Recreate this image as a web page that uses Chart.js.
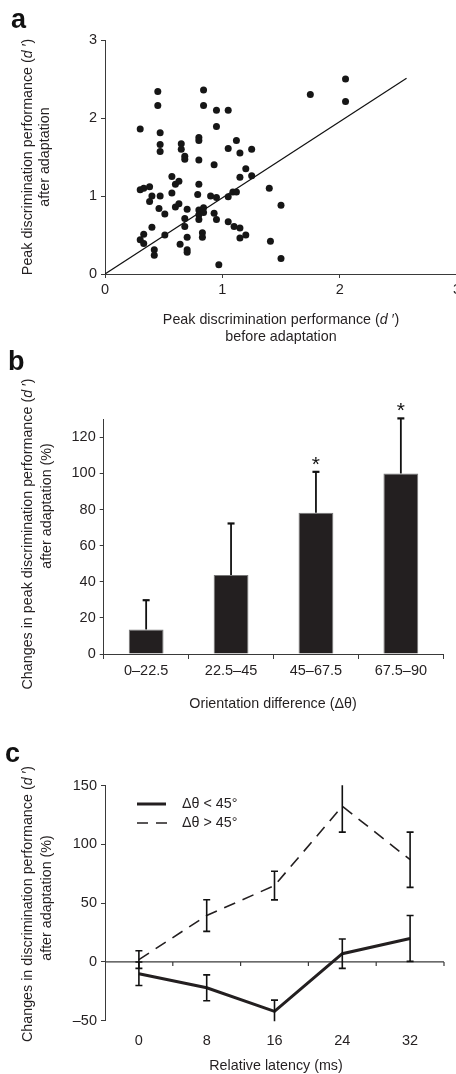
<!DOCTYPE html>
<html>
<head>
<meta charset="utf-8">
<script src="https://cdn.jsdelivr.net/npm/chart.js@4/dist/chart.umd.min.js"></script>
<style>
  html, body { margin: 0; padding: 0; background: #fff; width: 456px; height: 1074px; overflow: hidden; }
  .panel { position: absolute; left: 0; }
  canvas { display: block; }
</style>
</head>
<body>
<div class="panel" style="top:0px"><canvas id="chartA" width="470" height="350"></canvas></div>
<div class="panel" style="top:350px"><canvas id="chartB" width="456" height="370"></canvas></div>
<div class="panel" style="top:720px"><canvas id="chartC" width="456" height="354"></canvas></div>
<script>
// ---- panel a: peak d' before vs after adaptation ----
var beforeD = [0.30, 0.45, 0.45, 0.47, 0.47, 0.47, 0.84, 0.84, 0.95, 1.05, 0.95, 0.65, 0.65, 0.68, 0.68,
  0.80, 0.80, 0.80, 0.93, 1.05, 1.12, 1.15, 1.25, 1.20, 1.15, 1.25, 0.57, 0.60, 0.63, 0.80,
  0.30, 0.33, 0.38, 0.40, 0.47, 0.38, 0.46, 0.51, 0.57, 0.60, 0.63, 0.70, 0.79, 0.80, 0.80,
  0.80, 0.84, 0.84, 0.90, 0.95, 0.93, 0.95, 1.05, 1.09, 1.12, 1.40, 1.50, 0.68, 0.68, 1.05,
  1.10, 1.15, 1.20, 1.15, 0.30, 0.33, 0.33, 0.40, 0.51, 0.42, 0.42, 0.64, 0.70, 0.70, 0.70,
  0.83, 0.83, 0.97, 1.41, 1.50, 1.75, 2.05, 2.05];
var afterD = [1.86, 2.34, 2.16, 1.81, 1.66, 1.57, 2.36, 2.16, 2.10, 2.10, 1.89, 1.67, 1.60, 1.51, 1.47,
  1.75, 1.71, 1.46, 1.40, 1.61, 1.71, 1.55, 1.60, 1.35, 1.24, 1.26, 1.25, 1.15, 1.19, 1.15,
  1.08, 1.10, 1.12, 1.00, 1.00, 0.93, 0.84, 0.77, 1.04, 0.86, 0.90, 0.83, 1.02, 0.82, 0.76,
  0.70, 0.85, 0.79, 1.00, 0.98, 0.78, 0.70, 0.99, 1.05, 1.05, 1.10, 0.88, 0.71, 0.61, 0.67,
  0.61, 0.59, 0.50, 0.46, 0.44, 0.51, 0.39, 0.60, 0.50, 0.31, 0.24, 0.38, 0.47, 0.31, 0.28,
  0.53, 0.47, 0.12, 0.42, 0.20, 2.30, 2.50, 2.21];
var unityX = [0, 2.57];
var unityY = [0, 2.51];

// ---- panel b: change in peak d' by orientation difference ----
var orientCats = ["0–22.5", "22.5–45", "45–67.5", "67.5–90"];
var orientMean = [13.6, 43.8, 78.2, 100];
var orientErr = [16.2, 28.5, 22.7, 30.5];
var orientStar = [false, false, true, true];

// ---- panel c: change in d' vs relative latency ----
var latency = [0, 8, 16, 24, 32];
var narrowMean = [-10, -22, -42, 7, 20];
var narrowErr = [10, 11, 9.5, 12.5, 19.5];
var wideMean = [2, 39.5, 65, 132.5, 87];
var wideErr = [7.5, 13.5, 12.2, 22, 23.5];

var FONT = "'Liberation Sans', Arial, Helvetica, sans-serif";
var INK = "#231f20";
var AXIS = "#3a3a3a";

Chart.defaults.font.family = FONT;
Chart.defaults.font.size = 14.5;
Chart.defaults.color = INK;
Chart.defaults.animation = false;

// text with italic pieces, centred on (x, y); rotated for y titles
function richText(ctx, parts, x, y, rotate) {
  ctx.save();
  ctx.translate(x, y);
  if (rotate) ctx.rotate(-Math.PI / 2);
  ctx.textBaseline = "middle";
  ctx.textAlign = "left";
  ctx.fillStyle = INK;
  var total = 0;
  parts.forEach(function (p) {
    ctx.font = (p[1] ? "italic " : "") + "14.3px " + FONT;
    total += ctx.measureText(p[0]).width;
  });
  var cx = -total / 2;
  parts.forEach(function (p) {
    ctx.font = (p[1] ? "italic " : "") + "14.3px " + FONT;
    ctx.fillText(p[0], cx, 0);
    cx += ctx.measureText(p[0]).width;
  });
  ctx.restore();
}

function panelLetter(ctx, letter, x, y) {
  ctx.save();
  ctx.font = "bold 27px " + FONT;
  ctx.fillStyle = "#111";
  ctx.textBaseline = "alphabetic";
  ctx.fillText(letter, x, y);
  ctx.restore();
}

function yAxisOpts(min, max, step, width, extra) {
  var o = {
    min: min, max: max,
    border: { display: true, color: AXIS, width: 1 },
    grid: { display: true, drawOnChartArea: false, drawTicks: true, tickLength: 4, color: AXIS },
    ticks: { stepSize: step, padding: 4, includeBounds: false, color: INK },
    afterFit: function (s) { s.width = width; }
  };
  return Object.assign(o, extra || {});
}

// ---------------- panel a ----------------
var scatterPts = beforeD.map(function (v, i) { return { x: v, y: afterD[i] }; });
var unityPts = unityX.map(function (v, i) { return { x: v, y: unityY[i] }; });

new Chart(document.getElementById("chartA"), {
  type: "scatter",
  data: {
    datasets: [
      { data: unityPts, showLine: true, borderColor: "#111", borderWidth: 1.2, pointRadius: 0, order: 2 },
      { data: scatterPts, backgroundColor: "#161616", borderWidth: 0, pointRadius: 3.5, order: 1 }
    ]
  },
  options: {
    responsive: false,
    layout: { padding: { left: 0, right: 13, top: 40, bottom: 0 } },
    plugins: { legend: { display: false }, tooltip: { enabled: false } },
    scales: {
      x: {
        type: "linear", min: 0, max: 3,
        border: { display: true, color: AXIS, width: 1 },
        grid: { display: true, drawOnChartArea: false, drawTicks: true, tickLength: 4, color: AXIS },
        ticks: { stepSize: 1, padding: 3, color: INK },
        afterFit: function (s) { s.height = 76; }
      },
      y: yAxisOpts(0, 3, 1, 105)
    }
  },
  plugins: [{
    id: "textA",
    afterDraw: function (chart) {
      var ctx = chart.ctx;
      panelLetter(ctx, "a", 11, 28);
      richText(ctx, [["Peak discrimination performance (", false], ["d", true], [" ′)", false]], 281, 320, false);
      richText(ctx, [["before adaptation", false]], 281, 337, false);
      richText(ctx, [["Peak discrimination performance (", false], ["d", true], [" ′)", false]], 28, 157, true);
      richText(ctx, [["after adaptation", false]], 45, 157, true);
    }
  }]
});

// ---------------- panel b ----------------
new Chart(document.getElementById("chartB"), {
  type: "bar",
  data: {
    labels: orientCats,
    datasets: [{
      data: orientMean,
      backgroundColor: INK,
      borderColor: "#777",
      borderWidth: 1,
      categoryPercentage: 1,
      barPercentage: 0.41
    }]
  },
  options: {
    responsive: false,
    layout: { padding: { left: 0, right: 12.7, top: 69.3, bottom: 0 } },
    plugins: { legend: { display: false }, tooltip: { enabled: false } },
    scales: {
      x: {
        border: { display: true, color: AXIS, width: 1 },
        grid: { display: true, offset: true, drawOnChartArea: false, drawTicks: true, tickLength: 5, color: AXIS },
        ticks: { padding: 3, color: INK },
        afterFit: function (s) { s.height = 66; }
      },
      y: yAxisOpts(0, 130, 20, 103.7, {})
    }
  },
  plugins: [{
    id: "errB",
    afterDatasetsDraw: function (chart) {
      var ctx = chart.ctx, xs = chart.scales.x, ys = chart.scales.y;
      ctx.save();
      ctx.strokeStyle = "#111";
      orientMean.forEach(function (m, i) {
        var px = xs.getPixelForValue(i);
        var top = ys.getPixelForValue(m + orientErr[i]);
        var base = ys.getPixelForValue(m);
        ctx.lineWidth = 1.8;
        ctx.beginPath(); ctx.moveTo(px, base); ctx.lineTo(px, top); ctx.stroke();
        ctx.lineWidth = 2.2;
        ctx.beginPath(); ctx.moveTo(px - 3.5, top); ctx.lineTo(px + 3.5, top); ctx.stroke();
        if (orientStar[i]) {
          ctx.font = "21px " + FONT;
          ctx.fillStyle = "#111";
          ctx.textAlign = "center";
          ctx.textBaseline = "alphabetic";
          ctx.fillText("*", px, top - 1);
        }
      });
      ctx.restore();
    },
    afterDraw: function (chart) {
      var ctx = chart.ctx;
      panelLetter(ctx, "b", 8, 20);
      richText(ctx, [["Orientation difference (Δθ)", false]], 273, 354, false);
      richText(ctx, [["Changes in peak discrimination performance (", false], ["d", true], [" ′)", false]], 28, 184, true);
      richText(ctx, [["after adaptation (%)", false]], 47, 156, true);
    }
  }]
});

// ---------------- panel c ----------------
function toPts(xs, ys) { return xs.map(function (v, i) { return { x: v, y: ys[i] }; }); }

new Chart(document.getElementById("chartC"), {
  type: "line",
  data: {
    datasets: [
      { data: toPts(latency, narrowMean), borderColor: INK, borderWidth: 3, pointRadius: 0, fill: false, tension: 0 },
      { data: toPts(latency, wideMean), borderColor: INK, borderWidth: 1.6, borderDash: [12, 8], pointRadius: 0, fill: false, tension: 0 }
    ]
  },
  options: {
    responsive: false,
    layout: { padding: { left: 0, right: 8, top: 65.7, bottom: 0 } },
    plugins: { legend: { display: false }, tooltip: { enabled: false } },
    scales: {
      x: {
        type: "linear", min: -4, max: 36,
        border: { display: false },
        grid: { display: false, drawTicks: false },
        ticks: {
          stepSize: 4, padding: 12, color: INK,
          callback: function (v) { return (v >= 0 && v <= 32 && v % 8 === 0) ? String(v) : ""; }
        },
        afterFit: function (s) { s.height = 53.3; }
      },
      y: yAxisOpts(-50, 150, 50, 105, {
        ticks: {
          stepSize: 50, padding: 4, color: INK,
          callback: function (v) { return v < 0 ? "–" + Math.abs(v) : String(v); }
        }
      })
    }
  },
  plugins: [{
    id: "zeroAndErr",
    beforeDatasetsDraw: function (chart) {
      var ctx = chart.ctx, xs = chart.scales.x, ys = chart.scales.y, a = chart.chartArea;
      var y0 = ys.getPixelForValue(0);
      ctx.save();
      ctx.strokeStyle = AXIS;
      ctx.lineWidth = 1.2;
      ctx.beginPath(); ctx.moveTo(a.left, y0); ctx.lineTo(a.right, y0); ctx.stroke();
      [4, 12, 20, 28, 36].forEach(function (t) {
        var px = xs.getPixelForValue(t);
        ctx.beginPath(); ctx.moveTo(px, y0); ctx.lineTo(px, y0 + 4); ctx.stroke();
      });
      ctx.restore();
    },
    afterDatasetsDraw: function (chart) {
      var ctx = chart.ctx, xs = chart.scales.x, ys = chart.scales.y, a = chart.chartArea;
      ctx.save();
      ctx.beginPath();
      ctx.rect(a.left, a.top - 0.5, a.right - a.left, a.bottom - a.top + 1);
      ctx.clip();
      ctx.strokeStyle = "#111";
      ctx.lineWidth = 1.6;
      [[narrowMean, narrowErr], [wideMean, wideErr]].forEach(function (s) {
        s[0].forEach(function (m, i) {
          var px = xs.getPixelForValue(latency[i]);
          var hi = m + s[1][i], lo = m - s[1][i];
          var yh = ys.getPixelForValue(hi), yl = ys.getPixelForValue(lo);
          ctx.beginPath(); ctx.moveTo(px, yh); ctx.lineTo(px, yl); ctx.stroke();
          if (hi <= 150) { ctx.beginPath(); ctx.moveTo(px - 3.5, yh); ctx.lineTo(px + 3.5, yh); ctx.stroke(); }
          if (lo >= -50) { ctx.beginPath(); ctx.moveTo(px - 3.5, yl); ctx.lineTo(px + 3.5, yl); ctx.stroke(); }
        });
      });
      ctx.restore();
    },
    afterDraw: function (chart) {
      var ctx = chart.ctx;
      panelLetter(ctx, "c", 5, 42);
      // legend
      ctx.save();
      ctx.strokeStyle = INK;
      ctx.lineWidth = 3;
      ctx.beginPath(); ctx.moveTo(137, 84); ctx.lineTo(166, 84); ctx.stroke();
      ctx.lineWidth = 1.6;
      ctx.setLineDash([11, 8]);
      ctx.beginPath(); ctx.moveTo(137, 103); ctx.lineTo(167, 103); ctx.stroke();
      ctx.setLineDash([]);
      ctx.font = "14.3px " + FONT;
      ctx.fillStyle = INK;
      ctx.textBaseline = "middle";
      ctx.fillText("Δθ < 45°", 182, 84);
      ctx.fillText("Δθ > 45°", 182, 103);
      ctx.restore();
      richText(ctx, [["Relative latency (ms)", false]], 276, 346, false);
      richText(ctx, [["Changes in discrimination performance (", false], ["d", true], [" ′)", false]], 28, 184, true);
      richText(ctx, [["after adaptation (%)", false]], 47, 178, true);
    }
  }]
});
</script>
</body>
</html>
